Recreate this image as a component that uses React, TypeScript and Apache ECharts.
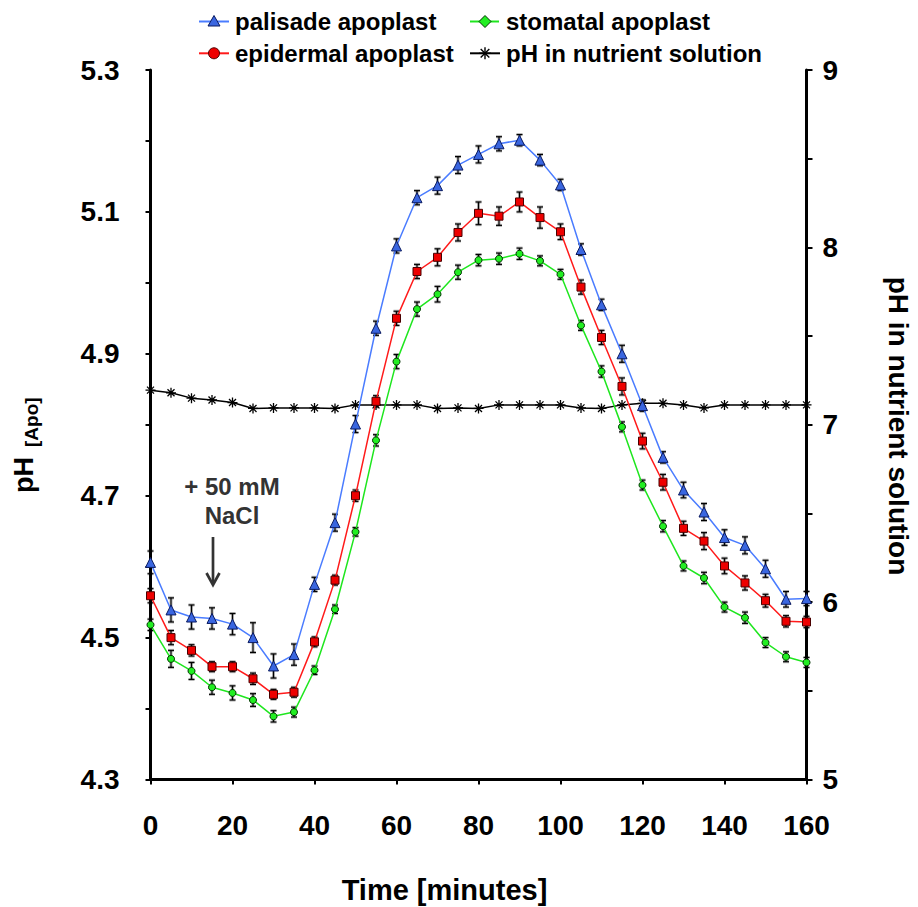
import React, { useEffect, useRef } from "react";
import * as echarts from "echarts";

const times = [0, 5, 10, 15, 20, 25, 30, 35, 40, 45, 50, 55, 60, 65, 70, 75, 80, 85, 90, 95, 100, 105, 110, 115, 120, 125, 130, 135, 140, 145, 150, 155, 160];

const palisade = [4.606, 4.539, 4.529, 4.527, 4.519, 4.500, 4.460, 4.476, 4.575, 4.662, 4.801, 4.936, 5.052, 5.120, 5.137, 5.166, 5.181, 5.196, 5.201, 5.173, 5.138, 5.047, 4.969, 4.900, 4.827, 4.754, 4.708, 4.677, 4.641, 4.630, 4.597, 4.554, 4.555];
const palisadeErr = [0.016, 0.017, 0.017, 0.015, 0.015, 0.021, 0.017, 0.015, 0.010, 0.012, 0.012, 0.010, 0.010, 0.010, 0.012, 0.012, 0.012, 0.010, 0.008, 0.008, 0.008, 0.008, 0.008, 0.012, 0.008, 0.008, 0.011, 0.012, 0.011, 0.012, 0.012, 0.011, 0.010];

const epidermal = [4.559, 4.500, 4.482, 4.459, 4.459, 4.442, 4.420, 4.423, 4.494, 4.581, 4.700, 4.833, 4.950, 5.016, 5.036, 5.071, 5.098, 5.094, 5.114, 5.092, 5.072, 4.994, 4.923, 4.854, 4.777, 4.719, 4.654, 4.636, 4.601, 4.577, 4.552, 4.523, 4.522];
const epidermalErr = [0.010, 0.010, 0.008, 0.007, 0.007, 0.008, 0.007, 0.007, 0.007, 0.007, 0.008, 0.008, 0.010, 0.010, 0.012, 0.012, 0.016, 0.013, 0.014, 0.015, 0.011, 0.010, 0.010, 0.012, 0.011, 0.011, 0.010, 0.012, 0.011, 0.010, 0.009, 0.008, 0.008];

const stomatal = [4.518, 4.470, 4.453, 4.430, 4.422, 4.412, 4.389, 4.395, 4.454, 4.540, 4.649, 4.778, 4.889, 4.963, 4.984, 5.015, 5.032, 5.034, 5.041, 5.031, 5.012, 4.940, 4.875, 4.797, 4.715, 4.657, 4.601, 4.584, 4.543, 4.528, 4.493, 4.473, 4.465];
const stomatalErr = [0.008, 0.012, 0.012, 0.010, 0.010, 0.009, 0.008, 0.007, 0.006, 0.006, 0.006, 0.008, 0.010, 0.010, 0.011, 0.010, 0.008, 0.008, 0.008, 0.007, 0.007, 0.007, 0.008, 0.007, 0.007, 0.008, 0.007, 0.008, 0.007, 0.008, 0.007, 0.007, 0.007];

const nutrient = [7.195, 7.18, 7.15, 7.14, 7.125, 7.092, 7.095, 7.095, 7.095, 7.092, 7.112, 7.112, 7.112, 7.112, 7.092, 7.095, 7.092, 7.112, 7.112, 7.112, 7.112, 7.095, 7.092, 7.112, 7.121, 7.121, 7.112, 7.095, 7.112, 7.112, 7.112, 7.112, 7.112];

const leftTicks = { min: 4.3, max: 5.3, step: 0.1 };
const rightTicks = { min: 5, max: 9, step: 0.5 };
const xTicks = { min: 0, max: 160, step: 20 };

const FONT = "'Liberation Sans', Arial, Helvetica, sans-serif";

const BLUE_LINE = "#4a7cff";
const BLUE_FILL = "#3a66e0";
const RED_LINE = "#ff1a1a";
const RED_FILL = "#ee0000";
const GREEN_LINE = "#1ee61e";
const GREEN_FILL = "#22ee22";

function errData(vals: number[], errs: number[]) {
  return times.map((t, i) => [t, vals[i] - errs[i], vals[i] + errs[i]]);
}

function errSeries(vals: number[], errs: number[]) {
  return {
    type: "custom",
    yAxisIndex: 0,
    silent: true,
    z: 1,
    encode: { x: 0, y: [1, 2] },
    data: errData(vals, errs),
    renderItem: (params: any, api: any) => {
      const x = api.value(0);
      const lo = api.value(1);
      const hi = api.value(2);
      const pHi = api.coord([x, hi]);
      const pLo = api.coord([x, lo]);
      const w = 3;
      const mk = (stroke: string, lw: number) => [
        { type: "line", shape: { x1: pHi[0], y1: pHi[1], x2: pLo[0], y2: pLo[1] }, style: { stroke, lineWidth: lw } },
        { type: "line", shape: { x1: pHi[0] - w, y1: pHi[1], x2: pHi[0] + w, y2: pHi[1] }, style: { stroke, lineWidth: lw } },
        { type: "line", shape: { x1: pLo[0] - w, y1: pLo[1], x2: pLo[0] + w, y2: pLo[1] }, style: { stroke, lineWidth: lw } },
      ];
      return {
        type: "group",
        children: [...mk("rgba(0,0,0,0.3)", 3), ...mk("#000", 1.1)],
      };
    },
  };
}

const STAR = "path://M5,0L5,10M0,5L10,5M1.5,1.5L8.5,8.5M1.5,8.5L8.5,1.5";

function legendGraphics() {
  const r1 = 21.5;
  const r2 = 53.3;
  const txt = (x: number, y: number, s: string) => ({
    type: "text",
    x,
    y,
    style: { text: s, fill: "#000", font: `bold 24px ${FONT}`, align: "left", verticalAlign: "middle" },
  });
  const ln = (x1: number, x2: number, y: number, c: string) => ({
    type: "line",
    shape: { x1, y1: y, x2, y2: y },
    style: { stroke: c, lineWidth: 2 },
  });
  const sx = 485;
  const starLines = [
    [0, -6, 0, 6],
    [-6, 0, 6, 0],
    [-4.3, -4.3, 4.3, 4.3],
    [-4.3, 4.3, 4.3, -4.3],
  ].map((a) => ({
    type: "line",
    shape: { x1: sx + a[0], y1: r2 + a[1], x2: sx + a[2], y2: r2 + a[3] },
    style: { stroke: "#000", lineWidth: 1.4 },
  }));
  return [
    ln(199, 229, r1, BLUE_LINE),
    {
      type: "polygon",
      shape: { points: [[214, r1 - 6], [220, r1 + 4.5], [208, r1 + 4.5]] },
      style: { fill: BLUE_FILL, stroke: "#0a1a60", lineWidth: 1 },
    },
    txt(235, r1, "palisade apoplast"),
    ln(470, 499, r1, GREEN_LINE),
    {
      type: "polygon",
      shape: { points: [[485, r1 - 6], [491, r1], [485, r1 + 6], [479, r1]] },
      style: { fill: GREEN_FILL, stroke: "#003300", lineWidth: 1 },
    },
    txt(506, r1, "stomatal apoplast"),
    ln(199, 229, r2, RED_LINE),
    {
      type: "circle",
      shape: { cx: 214, cy: r2, r: 5.5 },
      style: { fill: RED_FILL, stroke: "#4a0000", lineWidth: 1 },
    },
    txt(235, r2, "epidermal apoplast"),
    ln(470, 500, r2, "#000"),
    ...starLines,
    txt(506, r2, "pH in nutrient solution"),
  ];
}

export default function App() {
  const ref = useRef<HTMLDivElement>(null);

  useEffect(() => {
    if (!ref.current) return;
    const chart = echarts.init(ref.current, null, { renderer: "svg" });
    const axisLineStyle = { color: "#000", width: 3 };
    const option: any = {
      animation: false,
      backgroundColor: "#fff",
      textStyle: { fontFamily: FONT },
      grid: { left: 150.5, right: 111.5, top: 70, bottom: 127.5, containLabel: false },
      xAxis: {
        type: "value",
        min: xTicks.min,
        max: xTicks.max,
        interval: xTicks.step,
        axisLine: { show: true, lineStyle: axisLineStyle },
        axisTick: { show: true, inside: false, length: 5, lineStyle: { color: "#000", width: 2 } },
        axisLabel: { color: "#000", fontSize: 28, fontWeight: "bold", fontFamily: FONT, margin: 32 },
        splitLine: { show: false },
      },
      yAxis: [
        {
          type: "value",
          position: "left",
          min: leftTicks.min,
          max: leftTicks.max,
          interval: leftTicks.step,
          axisLine: { show: true, lineStyle: axisLineStyle },
          axisTick: { show: true, inside: false, length: 5, lineStyle: { color: "#000", width: 2 } },
          axisLabel: {
            color: "#000",
            fontSize: 28,
            fontWeight: "bold",
            fontFamily: FONT,
            margin: 31,
            formatter: (v: number) => (Math.round(v * 10) % 2 === 1 ? v.toFixed(1) : ""),
          },
          splitLine: { show: false },
        },
        {
          type: "value",
          position: "right",
          min: rightTicks.min,
          max: rightTicks.max,
          interval: rightTicks.step,
          axisLine: { show: true, lineStyle: axisLineStyle },
          axisTick: { show: true, inside: false, length: 6, lineStyle: { color: "#000", width: 2 } },
          axisLabel: {
            color: "#000",
            fontSize: 28,
            fontWeight: "bold",
            fontFamily: FONT,
            margin: 16,
            formatter: (v: number) => (Number.isInteger(v) ? String(v) : ""),
          },
          splitLine: { show: false },
        },
      ],
      graphic: [
        ...legendGraphics(),
        {
          type: "text",
          x: 444.5,
          y: 890,
          style: { text: "Time [minutes]", fill: "#000", font: `bold 29px ${FONT}`, align: "center", verticalAlign: "middle" },
        },
        {
          type: "group",
          x: 30,
          y: 445,
          rotation: Math.PI / 2,
          children: [
            {
              type: "text",
              x: -48,
              y: -6.5,
              style: { text: "pH", fill: "#000", font: `bold 27px ${FONT}`, align: "left", verticalAlign: "middle" },
            },
            {
              type: "text",
              x: -2,
              y: 1.5,
              style: { text: "[Apo]", fill: "#000", font: `bold 19px ${FONT}`, align: "left", verticalAlign: "middle" },
            },
          ],
        },
        {
          type: "text",
          x: 898,
          y: 426,
          rotation: -Math.PI / 2,
          style: { text: "pH in nutrient solution", fill: "#000", font: `bold 28px ${FONT}`, align: "center", verticalAlign: "middle" },
        },
        {
          type: "text",
          x: 232,
          y: 486,
          style: { text: "+ 50 mM", fill: "#333", font: `bold 24px ${FONT}`, align: "center", verticalAlign: "middle" },
        },
        {
          type: "text",
          x: 232,
          y: 515,
          style: { text: "NaCl", fill: "#333", font: `bold 24px ${FONT}`, align: "center", verticalAlign: "middle" },
        },
        {
          type: "line",
          shape: { x1: 213, y1: 537, x2: 213, y2: 584 },
          style: { stroke: "#333", lineWidth: 2.7 },
        },
        {
          type: "polyline",
          shape: { points: [[206.5, 573], [213, 585], [219.5, 573]] },
          style: { stroke: "#333", lineWidth: 2.7, fill: null },
        },
      ],
      series: [
        errSeries(palisade, palisadeErr),
        errSeries(epidermal, epidermalErr),
        errSeries(stomatal, stomatalErr),
        {
          name: "pH in nutrient solution",
          type: "line",
          yAxisIndex: 1,
          data: times.map((t, i) => [t, nutrient[i]]),
          symbol: STAR,
          symbolSize: 10,
          showAllSymbol: true,
          lineStyle: { color: "#000", width: 1.5 },
          itemStyle: { color: "#000", borderColor: "#000", borderWidth: 1.3 },
          z: 2,
        },
        {
          name: "palisade apoplast",
          type: "line",
          yAxisIndex: 0,
          data: times.map((t, i) => [t, palisade[i]]),
          symbol: "triangle",
          symbolSize: 10,
          showAllSymbol: true,
          lineStyle: { color: BLUE_LINE, width: 1.5 },
          itemStyle: { color: BLUE_FILL, borderColor: "#0a1a60", borderWidth: 1 },
          z: 3,
        },
        {
          name: "epidermal apoplast",
          type: "line",
          yAxisIndex: 0,
          data: times.map((t, i) => [t, epidermal[i]]),
          symbol: "rect",
          symbolSize: 8,
          showAllSymbol: true,
          lineStyle: { color: RED_LINE, width: 1.5 },
          itemStyle: { color: RED_FILL, borderColor: "#4a0000", borderWidth: 1 },
          z: 3,
        },
        {
          name: "stomatal apoplast",
          type: "line",
          yAxisIndex: 0,
          data: times.map((t, i) => [t, stomatal[i]]),
          symbol: "circle",
          symbolSize: 7,
          showAllSymbol: true,
          lineStyle: { color: GREEN_LINE, width: 1.5 },
          itemStyle: { color: GREEN_FILL, borderColor: "#003300", borderWidth: 1 },
          z: 3,
        },
      ],
    };
    chart.setOption(option);
    return () => chart.dispose();
  }, []);

  return (
    <div
      ref={ref}
      style={{ position: "absolute", left: 0, top: 0, width: 918, height: 907, background: "#fff" }}
    />
  );
}
